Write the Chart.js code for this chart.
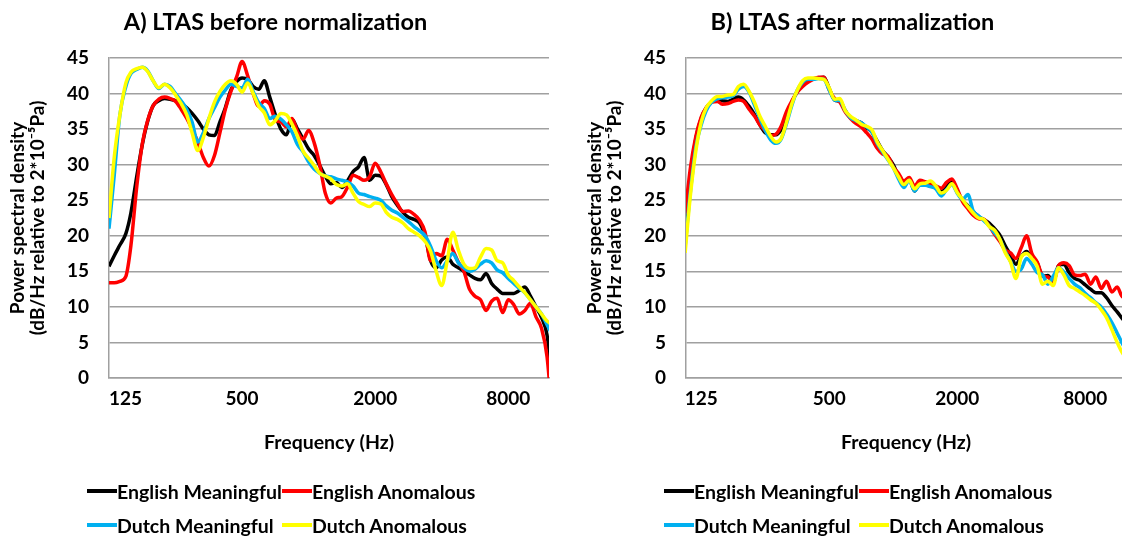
<!DOCTYPE html>
<html>
<head>
<meta charset="utf-8">
<script src="https://cdn.jsdelivr.net/npm/chart.js@4.4.1/dist/chart.umd.min.js"></script>
<style>
  html, body { margin: 0; padding: 0; background: #fff; }
  body { width: 1122px; height: 536px; overflow: hidden; position: relative; }
  .panel { position: absolute; top: 0; width: 586px; height: 536px; }
  .panel canvas { position: absolute; left: 0; top: 0; }
  .legend-item {
    position: absolute; height: 24px; display: flex; align-items: center;
    font: bold 19.5px Lato, sans-serif; color: #000; white-space: nowrap;
  }
  .legend-item .swatch { display: inline-block; width: 30px; height: 4px; }
</style>
</head>
<body>
<div class="panel" id="panelA" style="left:-26px"><canvas id="chartA" width="586" height="536"></canvas></div>
<div class="panel" id="panelB" style="left:551px"><canvas id="chartB" width="586" height="536"></canvas></div>
<script>
// frequency points (Hz), roughly 1/12 octave apart
const freqHz = [105, 111, 118,
  125, 132, 140, 149, 157, 167, 177, 187, 198, 210, 223, 236, 250,
  265, 281, 297, 315, 334, 354, 375, 397, 420, 445, 472, 500,
  530, 561, 595, 630, 667, 707, 749, 794, 841, 891, 944, 1000,
  1059, 1122, 1189, 1260, 1335, 1414, 1498, 1587, 1682, 1782, 1888, 2000,
  2119, 2245, 2378, 2520, 2670, 2828, 2997, 3175, 3364, 3564, 3776, 4000,
  4238, 4490, 4757, 5040, 5339, 5657, 5993, 6350, 6727, 7127, 7551, 8000,
  8476, 8980, 9514, 10079, 10679, 11314, 11986, 12699];

const seriesNames = ["English Meaningful", "English Anomalous", "Dutch Meaningful", "Dutch Anomalous"];
const seriesColors = ["#000000", "#ff0000", "#00b0f0", "#ffff00"];

const xTickValues = [125, 500, 2000, 8000];

// A) before normalization (dB/Hz)
const engMeaningfulA = [null, null, null,
  15.7, 17.2, 18.7, 20.3, 23.2, 28.4, 32.9, 36.1, 38.3, 39, 39.3, 39.2, 39,
  38.6, 38, 37.2, 36.2, 35, 34.2, 34.1, 36, 38, 40.5, 41.7, 42.2,
  42, 41, 40.6, 41.8, 39.5, 37, 35, 34.2, 36.4, 35, 33.6, 32.2,
  31.3, 29.9, 28.4, 27.3, 27.5, 26.8, 27.7, 29, 29.7, 31, 27.8, 28.5,
  28.4, 27.2, 25.5, 24.3, 23.3, 22.6, 22.3, 21.8, 20, 16.5, 15.5, 16.6,
  17, 16, 15.5, 15, 14.5, 14, 13.8, 14.7, 13.3, 12.5, 11.9, 11.9,
  11.9, 12.3, 12.8, 11.5, 10, 8.5, 6, -1];
const engAnomalousA = [null, null, null,
  13.4, 13.4, 13.6, 14.3, 18.6, 27, 33, 36.2, 38.3, 39.2, 39.5, 39.3, 38.9,
  37.8, 36.5, 35, 33.2, 31, 29.8, 31.3, 34.5, 37.8, 40.3, 42.3, 44.5,
  42.5, 40, 38.2, 39, 38.5, 36.3, 36, 35.3, 36.5, 34.6, 33.6, 34.8,
  33.1, 30, 26, 24.6, 25.3, 25.5, 26.8, 28.5, 28.2, 27.8, 28.3, 30.2,
  29, 27.3, 25.8, 24.5, 23.4, 23.5, 23, 22.2, 20.5, 16.5, 17.5, 17.2,
  19.5, 18, 16.3, 15, 12.5, 11.5, 11, 9.5, 10.8, 11.2, 9.2, 11,
  10.3, 9, 9.5, 10.5, 8.6, 7, 3, -6];
const dutchMeaningfulA = [null, null, null,
  21, 28.5, 37, 41, 42.8, 43.4, 43.7, 43.2, 41.8, 40.7, 41.3, 41, 40,
  39, 37.8, 36, 33.2, 34.5, 36.5, 38, 39.5, 40.5, 41.3, 41, 40.8,
  42, 40.3, 38.7, 37.9, 36.5, 36.8, 36.4, 35.6, 34.6, 32.8, 31.8, 30.4,
  29.4, 28.8, 28.4, 28.3, 28, 27.8, 27.6, 27, 26, 25.8, 25.5, 25.3,
  25, 24.2, 23.6, 23.2, 22.6, 22, 21.3, 20.7, 20, 18.5, 16.5, 15.5,
  16.5, 17.5, 16.2, 15.5, 15, 15.3, 16, 16.5, 16.2, 15.2, 14.8, 14,
  13.3, 12.6, 12, 11, 10, 9, 7.5, 6];
const dutchAnomalousA = [null, null, null,
  22.5, 31, 37, 41.5, 43, 43.5, 43.7, 43.1, 41.8, 40.8, 41.3, 40.8, 39.8,
  38.6, 37, 34.5, 32, 33.8, 36.5, 38.8, 40.3, 41.3, 41.8, 41.3, 40.2,
  41.5, 40, 38.2, 37.3, 35.6, 36.2, 37.2, 37, 35.7, 34, 31.9, 30.9,
  29.9, 28.8, 28.4, 28, 27.2, 27, 27.3, 26, 24.8, 24.4, 24.1, 24.6,
  24.5, 23.3, 22.6, 22.3, 21.8, 21, 20.5, 20, 19.2, 17.8, 15, 13,
  16.5, 20.5, 18, 16, 15.4, 15.5, 17, 18.2, 18, 16.5, 16.2, 14.5,
  13.7, 12.8, 12, 11, 10, 9, 8, 7.5];

// B) after normalization (dB/Hz)
const engMeaningfulB = [20.9, 27.8, 33.7,
  36.5, 38, 38.8, 39.1, 39, 38.9, 39.2, 39.5, 39.1, 38.2, 37, 35.6, 34.5,
  34.2, 34.2, 34.9, 36.5, 38.8, 40.3, 41.3, 41.9, 42.1, 42.2, 42.3, 40.7,
  39.1, 38.9, 37.6, 36.6, 36.2, 35.9, 35.2, 34.6, 33.3, 32, 31.1, 30,
  28.5, 27.7, 28, 26.3, 27.4, 27.2, 27, 27, 26.2, 26.9, 27.8, 26.3,
  25, 24.2, 23.4, 22.7, 22.3, 21.8, 21, 20.1, 18.6, 17.3, 16, 17.1,
  17.8, 16.9, 16.2, 14.3, 14.4, 13.5, 15.8, 16, 14.8, 14, 13.7, 13.1,
  12.5, 12, 12, 11.3, 10.2, 9.3, 8.3, 7.5];
const engAnomalousB = [23, 29.4, 34,
  36.7, 38, 38.8, 38.9, 38.5, 38.6, 38.9, 39.1, 38.9, 37.8, 36.8, 35.6, 34.8,
  34.1, 34.3, 35.4, 37.5, 39, 40.2, 41, 41.6, 42, 42.3, 42.3, 40.5,
  39.3, 38.8, 37.4, 36.5, 35.8, 35.3, 34.5, 33.6, 32.3, 31.5, 31.2, 29.7,
  28.8, 27.7, 28.2, 27, 27.8, 27.6, 27.3, 27, 26.7, 27.5, 28, 26.6,
  24.8, 23.8, 22.9, 22.4, 22.3, 21.4, 20.2, 19.2, 18, 17.6, 16.8, 18.3,
  20, 17.5, 16.3, 14.4, 14.2, 13.5, 15.8, 16.2, 15.8, 14.5, 14.4, 14.6,
  13.2, 14.2, 12.6, 13.6, 12.1, 12.8, 11.4, 11.8];
const dutchMeaningfulB = [18.5, 26, 32.5,
  35.6, 37.6, 38.8, 39.3, 39.4, 39.5, 39.7, 40.6, 41, 40.2, 38.3, 36.5, 34.8,
  33.5, 33, 33.6, 35.8, 38.4, 40.5, 41.6, 42, 42, 42.1, 42, 40.5,
  39.1, 39, 37.6, 36.6, 36.2, 35.9, 35.3, 34.6, 33, 31.8, 30.7, 29.6,
  28, 26.8, 27.8, 26.3, 27.1, 27.1, 26.9, 26.6, 25.6, 26.5, 27.2, 26,
  25.1, 25.8, 23.5, 22.8, 22.1, 21.4, 20.4, 19.5, 17.8, 16.4, 15, 15.3,
  16.8, 16, 14.8, 14.5, 13.2, 14.3, 15.5, 14.9, 14, 13.2, 12.7, 11.9,
  11.3, 10.6, 10, 9, 7.8, 6.3, 4.8, 3.5];
const dutchAnomalousB = [17.6, 25.5, 32,
  36, 38, 39, 39.6, 39.6, 39.8, 39.9, 41, 41.3, 40.3, 38.7, 36.8, 35.4,
  34, 33.2, 33.7, 36, 38.6, 40.5, 41.8, 42.2, 42.2, 42.1, 42, 40.8,
  39.2, 39.3, 37.6, 36.8, 36.3, 35.7, 35.4, 34.9, 33.2, 32, 30.8, 29.6,
  28.3, 27.2, 27.8, 26.6, 27.3, 27.4, 27.7, 27, 26, 26.4, 27.3, 26.1,
  25.1, 24.1, 23.2, 22.5, 22.3, 21.3, 20.8, 19.5, 17.6, 16.3, 14, 17,
  17.5, 16.8, 15.7, 13.2, 13.6, 13, 15.5, 14.5, 13, 12.6, 12.1, 11.6,
  11, 10.5, 9.6, 8.5, 6.8, 5, 3.5, 2.5];

const gridColor = "#a0a0a0";
const font = (size, extra) => Object.assign({ family: "Lato", size: size, weight: "bold" }, extra || {});

// legend layout inside each panel
const legendCols = [113, 308];
const legendRows = [491, 525];

function buildChart(canvasId, titleText, series, xMin, xMax, labelAlign) {
  const datasets = seriesNames.map((name, i) => ({
    label: name,
    data: series[i],
    borderColor: seriesColors[i],
    backgroundColor: seriesColors[i],
    borderWidth: 3.5,
    pointRadius: 0,
    cubicInterpolationMode: "monotone",
    order: seriesNames.length - i,
  }));

  return new Chart(document.getElementById(canvasId), {
    type: "line",
    data: { labels: freqHz, datasets },
    options: {
      responsive: false,
      animation: false,
      devicePixelRatio: 1,
      layout: { padding: { left: 28, right: 11, top: 0, bottom: 82 } },
      plugins: {
        legend: { display: false },
        tooltip: { enabled: false },
        title: {
          display: true,
          text: titleText,
          color: "#000",
          font: font(23.5),
          padding: { top: 8.6, bottom: 21.2 },
        },
      },
      scales: {
        x: {
          type: "logarithmic",
          min: xMin,
          max: xMax,
          grid: { display: false, drawTicks: false },
          border: { display: true, color: gridColor, width: 1.5 },
          afterBuildTicks: (s) => {
            const vals = labelAlign === "inner" ? xTickValues.concat([xMax]) : xTickValues;
            s.ticks = vals.map((v) => ({ value: v }));
          },
          afterFit: (s) => { s.height = 76; },
          ticks: {
            autoSkip: false,
            maxRotation: 0,
            align: labelAlign,
            padding: 9,
            color: "#000",
            font: font(19),
            callback: (v) => (xTickValues.includes(v) ? String(v) : ""),
          },
          title: {
            display: true,
            text: "Frequency (Hz)",
            color: "#000",
            font: font(19.5),
            padding: { top: 0, bottom: 0 },
          },
        },
        y: {
          min: 0,
          max: 45,
          grid: { color: gridColor, lineWidth: 1.5, drawTicks: false },
          border: { display: true, color: gridColor, width: 1.5 },
          afterFit: (s) => { s.width = 107; },
          ticks: { stepSize: 5, padding: 20, color: "#000", font: font(19) },
          title: {
            display: true,
            text: ["Power spectral density", "(dB/Hz relative to 2*10\u207B\u2075Pa)"],
            color: "#000",
            font: font(19, { lineHeight: 1.05 }),
            padding: { top: 6, bottom: 0 },
          },
        },
      },
    },
  });
}

function buildLegend(panelId, chart) {
  const panel = document.getElementById(panelId);
  chart.data.datasets.forEach((ds, i) => {
    const item = document.createElement("div");
    item.className = "legend-item";
    item.style.left = legendCols[i % 2] + "px";
    item.style.top = legendRows[Math.floor(i / 2)] - 12 + "px";
    item.innerHTML = `<span class="swatch" style="background:${ds.borderColor}"></span>${ds.label}`;
    panel.appendChild(item);
  });
}

const chartA = buildChart("chartA", "A) LTAS before normalization",
  [engMeaningfulA, engAnomalousA, dutchMeaningfulA, dutchAnomalousA], 125, 12230, "inner");
const chartB = buildChart("chartB", "B) LTAS after normalization",
  [engMeaningfulB, engAnomalousB, dutchMeaningfulB, dutchAnomalousB], 106, 12445, "center");

buildLegend("panelA", chartA);
buildLegend("panelB", chartB);
</script>
</body>
</html>
